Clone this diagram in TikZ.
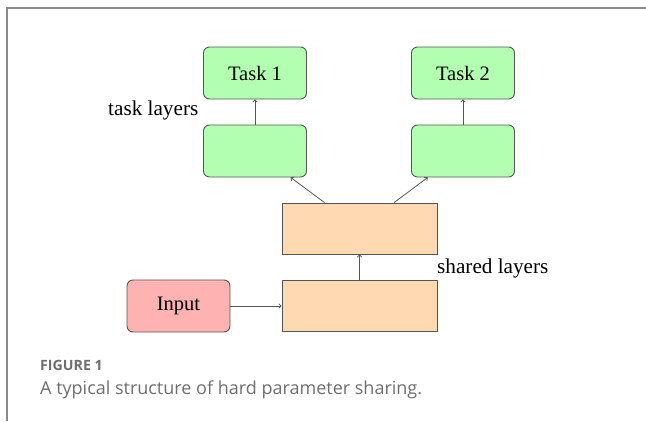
\documentclass[tikz,border=0pt]{standalone}
\usepackage{fontspec}
\setmainfont{Liberation Serif}
\newfontfamily\capfont{Open Sans}
\usetikzlibrary{arrows.meta}
\definecolor{edge}{HTML}{555555}
\definecolor{framegray}{HTML}{8A8A8A}
\definecolor{captext}{HTML}{6E6E6E}
\tikzset{
  layerbox/.style={draw=edge, line width=0.9pt, minimum width=103pt, minimum height=52pt,
                   inner sep=0pt, font=\fontsize{20.5}{24}\selectfont},
  taskbox/.style={layerbox, fill=green!30, rounded corners=6pt},
  inbox/.style={layerbox, fill=red!30, rounded corners=6pt},
  sharedbox/.style={layerbox, fill=orange!30, minimum width=155pt, minimum height=51pt},
  link/.style={draw=edge, line width=0.8pt, -{To[length=3pt,width=5pt]}},
  side/.style={font=\fontsize{21.2}{24}\selectfont, inner sep=0pt},
}
\begin{document}
\begin{tikzpicture}[x=1pt,y=-1pt]
  \useasboundingbox (0,0) rectangle (646,421);
  % panel frame
  \draw[framegray, line width=1.4pt] (646,8) -- (7,8) -- (7,421);

  % task-specific layers
  \node[taskbox] (t1) at (255,73) {Task 1};
  \node[taskbox] (t2) at (463,73) {Task 2};
  \node[taskbox] (t1b) at (255,151) {};
  \node[taskbox] (t2b) at (463,151) {};

  % shared layers and input
  \node[sharedbox] (s2) at (359.5,228.5) {};
  \node[sharedbox] (s1) at (359.5,306) {};
  \node[inbox] (in) at (178.5,306) {Input};

  % labels
  \node[side, anchor=base east] (tl) at (198.5,115) {task layers};
  \node[side, anchor=base west] (sl) at (437,273) {shared layers};

  % connections
  \draw[link] (in) -- (s1);
  \draw[link] (s1) -- (s2);
  \draw[link] (s2) -- (t1b);
  \draw[link] (s2) -- (t2b);
  \draw[link] (t1b) -- (t1);
  \draw[link] (t2b) -- (t2);

  % caption
  \node[anchor=base west, inner sep=0pt, text=captext, font=\capfont\bfseries\fontsize{14.2}{16}\selectfont] (fig) at (40,370) {FIGURE 1};
  \node[anchor=base west, inner sep=0pt, text=captext, font=\capfont\fontsize{18}{20}\selectfont] (cap) at (40,394.5) {A typical structure of hard parameter sharing.};
\end{tikzpicture}
\end{document}
